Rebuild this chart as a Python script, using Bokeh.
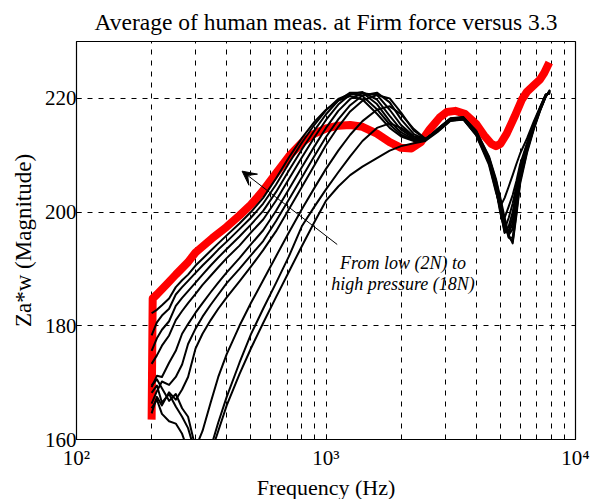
from bokeh.plotting import figure
from bokeh.models import FixedTicker, Arrow, VeeHead, Label, Range1d, Title
from bokeh.embed import file_html
from bokeh.resources import INLINE

# ---------------- data ----------------
freq = [200, 210, 220, 235, 250, 265, 280, 300, 320, 345, 370, 400, 450, 500, 560, 630, 710,
        800, 900, 1000, 1120, 1250, 1400, 1600, 1800, 2000, 2250,
        2500, 2800, 3150, 3550, 4000, 4500, 4800, 5000, 5200, 5400, 5600, 5800, 6000,
        6400, 6800, 7200, 7600, 7900]

curve_1 = [182.2, 182.8, 183.6, 184.8, 186.8, 188.0, 189.0, 190.6, 191.8, 193.2, 194.5, 195.9, 198.0, 200.0, 202.5, 205.9, 209.6,
           213.0, 215.9, 218.0, 219.6, 220.4, 219.8, 217.3, 214.8, 213.3, 212.5,
           212.6, 214.6, 216.5, 216.7, 214.3, 209.8, 205.8, 202.5, 199.0, 196.0, 194.5, 199.5, 205.0, 210.5, 214.5, 217.7, 220.3, 221.5]
curve_2 = [178.3, 180.6, 181.8, 183.0, 185.5, 186.8, 187.9, 189.3, 190.6, 192.0, 193.4, 194.8, 197.0, 199.0, 201.5, 204.8, 208.6,
           212.2, 215.4, 217.9, 219.9, 220.8, 220.4, 218.1, 215.4, 213.6, 212.6,
           212.6, 214.6, 216.4, 216.7, 214.2, 209.6, 205.5, 202.0, 198.5, 195.6, 194.8, 200.0, 205.5, 210.8, 214.7, 217.8, 220.3, 221.4]
curve_3 = [175.6, 177.8, 179.3, 180.8, 183.5, 184.9, 186.1, 187.6, 189.0, 190.6, 192.0, 193.5, 195.7, 197.8, 200.2, 203.5, 207.3,
           211.0, 214.4, 217.2, 219.6, 221.0, 221.0, 219.0, 216.0, 214.0, 212.8,
           212.7, 214.5, 216.4, 216.6, 214.1, 209.5, 205.3, 201.6, 198.0, 195.5, 195.5, 200.5, 205.8, 211.0, 214.8, 217.9, 220.4, 221.3]
curve_4 = [173.3, 174.8, 176.5, 178.3, 181.0, 182.6, 184.0, 185.6, 187.2, 188.8, 190.3, 191.9, 194.1, 196.4, 198.7, 202.0, 205.8,
           209.6, 213.2, 216.2, 218.9, 220.7, 221.1, 219.8, 216.9, 214.5, 213.0,
           212.8, 214.5, 216.3, 216.6, 214.0, 209.3, 205.0, 201.3, 197.5, 196.0, 197.0, 201.5, 206.2, 211.2, 215.0, 218.0, 220.4, 221.2]
curve_5 = [169.2, 171.2, 171.0, 173.5, 175.6, 178.6, 180.3, 182.3, 184.0, 185.9, 187.6, 189.4, 191.9, 194.3, 196.8, 200.2, 204.0,
           207.9, 211.6, 214.8, 217.8, 219.9, 220.9, 220.6, 218.0, 215.3, 213.3,
           212.8, 214.4, 216.3, 216.5, 213.9, 209.2, 204.8, 200.9, 197.0, 196.3, 198.0, 202.3, 206.6, 211.4, 215.1, 218.0, 220.5, 221.2]
curve_6 = [166.3, 168.5, 170.2, 169.6, 171.0, 173.2, 176.8, 179.5, 181.6, 183.7, 185.5, 187.5, 190.0, 192.4, 194.9, 198.4, 202.2,
           206.1, 209.9, 213.2, 216.3, 218.8, 220.5, 221.0, 219.3, 216.3, 213.7,
           212.8, 214.4, 216.2, 216.5, 213.8, 209.0, 204.5, 200.5, 196.5, 196.8, 199.0, 203.0, 207.0, 211.6, 215.2, 218.1, 220.5, 221.1]
curve_7 = [164.6, 167.5, 166.0, 168.3, 167.0, 168.8, 171.0, 176.0, 178.6, 181.0, 183.0, 185.0, 187.8, 190.4, 193.3, 196.6, 200.5,
           204.4, 208.3, 211.8, 215.0, 217.7, 219.6, 220.6, 220.0, 217.5, 214.3,
           212.9, 214.3, 216.2, 216.4, 213.8, 208.9, 204.2, 200.2, 196.3, 197.5, 200.0, 203.8, 207.4, 211.8, 215.3, 218.1, 220.6, 221.0]
curve_8 = [169.5, 170.6, 169.0, 166.8, 168.0, 165.5, 164.0, 158.5, 161.5, 166.5, 171.0, 175.0, 180.0, 184.0, 188.0, 192.2, 196.4,
           200.5, 204.3, 207.6, 210.8, 213.6, 216.0, 218.0, 218.6, 217.2, 214.6,
           212.9, 214.3, 216.1, 216.4, 213.7, 208.8, 204.0, 199.8, 197.0, 199.0, 201.5, 204.6, 207.9, 212.0, 215.4, 218.2, 220.6, 221.0]
curve_9 = [168.2, 169.5, 166.5, 168.0, 165.8, 164.0, 162.0, 157.5, 154.0, 158.5, 163.0, 167.5, 173.5, 178.5, 183.0, 187.5, 192.2,
           197.5, 201.0, 204.0, 207.0, 209.8, 212.5, 214.8, 215.6, 214.8, 213.3,
           212.8, 214.2, 216.1, 216.3, 213.6, 208.6, 203.8, 200.5, 199.0, 201.0, 203.0, 205.5, 208.4, 212.2, 215.6, 218.3, 220.7, 220.9]
curve_10 = [165.5, 167.0, 164.5, 163.2, 162.8, 161.0, 158.0, 154.0, 150.0, 157.5, 161.5, 166.0, 171.5, 176.0, 180.5, 185.0, 189.5,
            194.0, 198.3, 202.0, 204.5, 206.5, 208.0, 209.5, 210.8, 211.6, 212.1,
            212.5, 214.1, 216.0, 216.3, 213.5, 208.3, 203.5, 201.0, 202.5, 204.5, 206.5, 208.5, 210.3, 213.0, 215.9, 218.4, 220.7, 220.8]
black_curves = [curve_1, curve_2, curve_3, curve_4, curve_5, curve_6, curve_7, curve_8, curve_9, curve_10]

avg_freq = [200, 202, 210, 230, 250, 280, 300, 350, 400, 450, 500, 560, 630, 710, 800, 900, 1000, 1120, 1250,
            1400, 1600, 1800, 2000, 2200, 2400, 2600, 2850, 3050, 3300, 3600, 4000, 4300, 4600, 4800, 5000,
            5300, 5700, 6100, 6400, 6800, 7200, 7500, 7850]
avg_vals = [163.5, 184.8, 185.5, 187.3, 189.0, 191.2, 192.9, 195.4, 197.4, 199.4, 201.3, 203.8, 206.8, 209.8, 212.2, 213.8, 214.7, 215.2, 215.3,
            215.0, 213.8, 212.3, 211.3, 211.2, 212.3, 214.5, 216.6, 217.6, 217.8, 217.3, 215.5, 213.5, 212.0, 211.6, 212.0,
            213.8, 216.8, 219.8, 221.2, 222.3, 223.3, 224.5, 226.3]

y_ticks = [160, 180, 200, 220]
x_major = [100, 1000, 10000]
x_minor = [200, 300, 400, 500, 600, 700, 800, 900, 2000, 3000, 4000, 5000, 6000, 7000, 8000, 9000]
x_tick_text = {100: "10\u00b2", 1000: "10\u00b3", 10000: "10\u2074"}

note_lines = ["From low (2N) to", "high pressure (18N)"]
note_freq = 2035
note_vals = [191.1, 187.3]
arrow_from = (1109, 194.3)
arrow_to = (461, 207.2)

SERIF = "Liberation Serif"

# ---------------- figure ----------------
p = figure(frame_width=499, frame_height=398, x_axis_type="log",
           x_range=Range1d(100, 10000), y_range=Range1d(160, 230),
           output_backend="svg", toolbar_location=None,
           min_border_left=76, min_border_right=21, min_border_top=41, min_border_bottom=58,
           title="Average of human meas. at Firm force versus 3.3")

p.title.text_font = SERIF
p.title.text_font_size = "23.5px"
p.title.text_font_style = "normal"
p.title.align = "center"
p.title.standoff = 13
p.title.text_color = "black"

p.background_fill_color = "white"
p.border_fill_color = "white"
p.outline_line_color = "black"
p.outline_line_width = 1.2

xax = p.xaxis[0]
yax = p.yaxis[0]
xax.ticker = FixedTicker(ticks=x_major, minor_ticks=x_minor)
xax.major_label_overrides = x_tick_text
yax.ticker = FixedTicker(ticks=y_ticks)

yax.axis_label = "Za*w (Magnitude)"
for ax in (xax, yax):
    ax.axis_label_text_font = SERIF
    ax.axis_label_text_font_size = "23px"
    ax.axis_label_text_font_style = "normal"
    ax.axis_label_text_color = "black"
    ax.major_label_text_font = SERIF
    ax.major_label_text_font_size = "21px"
    ax.major_label_text_color = "black"
    ax.major_tick_in = 5
    ax.major_tick_out = 0
    ax.minor_tick_in = 3
    ax.minor_tick_out = 0
    ax.axis_line_color = "black"
    ax.major_tick_line_color = "black"
yax.minor_tick_line_color = None
xax.minor_tick_line_color = "black"
xax.major_label_standoff = 6
yax.major_label_standoff = 0
yax.axis_label_standoff = 6

p.xgrid.grid_line_color = "black"
p.xgrid.grid_line_dash = "5 6"
p.xgrid.grid_line_width = 1
p.xgrid.minor_grid_line_color = "black"
p.xgrid.minor_grid_line_dash = "5 6"
p.xgrid.minor_grid_line_width = 1
p.ygrid.grid_line_color = "black"
p.ygrid.grid_line_dash = "5 6"
p.ygrid.grid_line_width = 1

# x-axis title in the panel below the tick labels
p.add_layout(Title(text="Frequency (Hz)", align="center", text_font=SERIF, text_font_size="22px",
                   text_font_style="normal", text_color="black", standoff=0), "below")

# average (red, thick)
p.line(avg_freq, avg_vals, line_color="#ff0000", line_width=8, line_join="round")

# individual measurements (black)
for vals in black_curves:
    p.line(freq, vals, line_color="black", line_width=2, line_join="round")

# annotation
for txt, yv in zip(note_lines, note_vals):
    p.add_layout(Label(x=note_freq, y=yv, text=txt, text_align="center", text_baseline="alphabetic",
                       text_font=SERIF, text_font_size="18px", text_font_style="italic",
                       text_color="black"))
p.add_layout(Arrow(x_start=arrow_from[0], y_start=arrow_from[1], x_end=arrow_to[0], y_end=arrow_to[1],
                   line_color="black", line_width=1,
                   end=VeeHead(size=14, fill_color="black", line_color="black", line_width=1)))

open("out.html", "w").write(file_html(p, INLINE))
